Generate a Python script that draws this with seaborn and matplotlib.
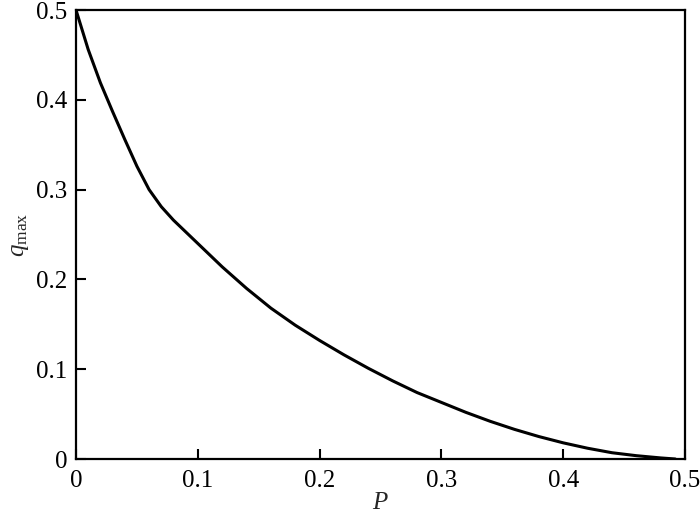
import numpy as np
import pandas as pd
import matplotlib
matplotlib.use("Agg")
import matplotlib.pyplot as plt
import seaborn as sns

# curve
p_vals = [0.0, 0.01, 0.02, 0.03, 0.04, 0.05, 0.06, 0.07, 0.08, 0.09, 0.10,
          0.12, 0.14, 0.16, 0.18, 0.20, 0.22, 0.24, 0.26, 0.28, 0.30,
          0.32, 0.34, 0.36, 0.38, 0.40, 0.42, 0.44, 0.46, 0.48, 0.492]
q_vals = [0.5, 0.456, 0.419, 0.387, 0.356, 0.326, 0.300, 0.281, 0.266, 0.253, 0.240,
          0.214, 0.190, 0.168, 0.149, 0.132, 0.116, 0.101, 0.087, 0.074, 0.063,
          0.052, 0.042, 0.033, 0.025, 0.018, 0.012, 0.007, 0.0037, 0.0012, 0.0]
x_ticks = [0, 0.1, 0.2, 0.3, 0.4, 0.5]
y_ticks = [0, 0.1, 0.2, 0.3, 0.4, 0.5]
x_ticklabels = ["0", "0.1", "0.2", "0.3", "0.4", "0.5"]
y_ticklabels = ["0", "0.1", "0.2", "0.3", "0.4", "0.5"]

df = pd.DataFrame({"P": p_vals, "q": q_vals})

sns.set_style("ticks")
plt.rcParams["font.family"] = ["Liberation Serif", "DejaVu Serif"]
plt.rcParams["mathtext.fontset"] = "custom"
plt.rcParams["mathtext.rm"] = "Liberation Serif"
plt.rcParams["mathtext.it"] = "Liberation Serif:italic"

fig = plt.figure(figsize=(7, 5.19), dpi=100)
ax = fig.add_axes([0.1086, 0.1156, 0.87, 0.8651])

sns.lineplot(data=df, x="P", y="q", color="black", linewidth=2.2, ax=ax, sort=False)

ax.set_xlim(0, 0.5)
ax.set_ylim(0, 0.5)
ax.set_xticks(x_ticks)
ax.set_xticklabels(x_ticklabels)
ax.set_yticks(y_ticks)
ax.set_yticklabels(y_ticklabels)
ax.tick_params(direction="in", length=7, width=1.5, labelsize=18, colors="black", pad=6)
ax.tick_params(axis="x", pad=8)
for s in ax.spines.values():
    s.set_visible(True)
    s.set_linewidth(1.6)
    s.set_color("black")

ax.set_xlabel(r"$P$", fontsize=18, labelpad=0)
ax.set_ylabel(r"$q_{\mathrm{max}}$", fontsize=18, labelpad=4)

fig.savefig("out.png", dpi=100)
